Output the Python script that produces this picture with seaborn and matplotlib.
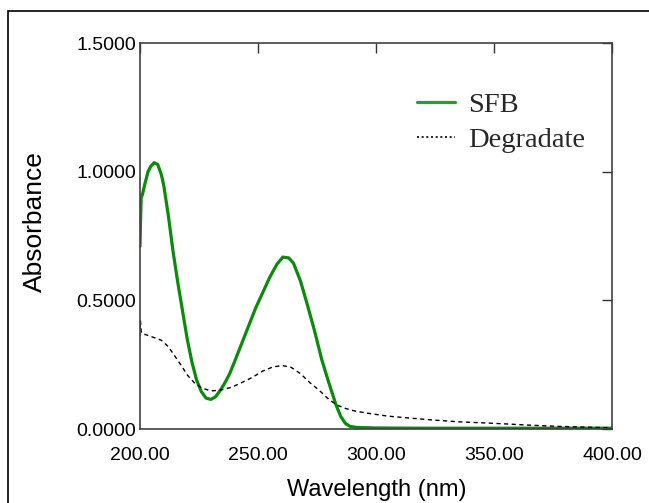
import numpy as np
import pandas as pd
import matplotlib
matplotlib.use("Agg")
import matplotlib.pyplot as plt
import seaborn as sns
from matplotlib.lines import Line2D
from matplotlib.patches import Rectangle
from matplotlib.ticker import FixedLocator, FormatStrFormatter

# ---- data ----
sfb_wl = [200, 200.2, 200.5, 201, 201.5, 202, 203.4, 204.5, 206, 207.5, 209, 210, 212, 214, 216,
          218, 220, 222, 224, 226, 228, 230, 232, 234, 236, 238, 240, 243, 246, 249, 252,
          255, 258, 260.5, 263, 265, 268, 271, 274, 277, 280, 283, 285, 287, 289, 292, 300,
          320, 350, 400]
sfb_abs = [0.71, 0.80, 0.90, 0.91, 0.93, 0.95, 1.00, 1.02, 1.035, 1.028, 0.99, 0.95, 0.83, 0.69, 0.57,
           0.46, 0.35, 0.26, 0.19, 0.145, 0.12, 0.115, 0.125, 0.15, 0.18, 0.215, 0.26, 0.33, 0.40, 0.47, 0.53,
           0.59, 0.64, 0.668, 0.665, 0.645, 0.575, 0.48, 0.38, 0.27, 0.18, 0.095, 0.05, 0.022, 0.01, 0.006, 0.004,
           0.003, 0.003, 0.003]

deg_wl = [200, 200.2, 200.5, 201, 203, 206, 209, 212, 215, 218, 220, 223, 226, 230, 233, 236,
          239, 243, 247.5, 252, 256, 260, 264, 268, 272, 276, 280, 283.5, 287, 291, 296, 305,
          315, 324, 335, 350, 365, 378, 390, 400]
deg_abs = [0.36, 0.42, 0.38, 0.37, 0.365, 0.355, 0.345, 0.32, 0.28, 0.24, 0.21, 0.18, 0.16, 0.148, 0.15, 0.155,
           0.163, 0.18, 0.20, 0.225, 0.24, 0.247, 0.24, 0.215, 0.18, 0.15, 0.115, 0.093, 0.08, 0.07, 0.062, 0.05,
           0.042, 0.035, 0.028, 0.022, 0.015, 0.01, 0.007, 0.005]

series_names = ["SFB", "Degradate"]
x_ticks = [200, 250, 300, 350, 400]
y_ticks = [0.0, 0.5, 1.0, 1.5]
x_label = "Wavelength (nm)"
y_label = "Absorbance"

sns.set_style("white")
plt.rcParams["font.family"] = ["Liberation Sans", "DejaVu Sans"]

W, H = 649, 503
fig = plt.figure(figsize=(W / 100, H / 100), dpi=100)
ax = fig.add_axes([140 / W, 1 - 429 / H, (612 - 140) / W, (429 - 43) / H])

sfb_df = pd.DataFrame({"wl": sfb_wl, "A": sfb_abs})
deg_df = pd.DataFrame({"wl": deg_wl, "A": deg_abs})

green = "#0b8a0b"
sns.lineplot(data=sfb_df, x="wl", y="A", ax=ax, color=green, lw=2.3,
             estimator=None, sort=False, legend=False)
sns.lineplot(data=deg_df, x="wl", y="A", ax=ax, color="black", lw=1.0,
             estimator=None, sort=False, legend=False)
ax.lines[1].set_linestyle((0, (3, 2.5)))

ax.set_xlim(200, 400)
ax.set_ylim(0, 1.5)
ax.xaxis.set_major_locator(FixedLocator(x_ticks))
ax.yaxis.set_major_locator(FixedLocator(y_ticks))
ax.xaxis.set_major_formatter(FormatStrFormatter("%.2f"))
ax.yaxis.set_major_formatter(FormatStrFormatter("%.4f"))
ax.tick_params(axis="both", which="major", direction="in", length=7.2, width=1.0,
               color="#333333", labelsize=14, labelcolor="black",
               top=True, right=True)
ax.tick_params(axis="x", pad=13)
ax.tick_params(axis="y", pad=3)
for s in ax.spines.values():
    s.set_color("#404040")
    s.set_linewidth(1.2)

ax.set_xlabel(x_label, fontsize=17, color="black")
ax.set_ylabel(y_label, fontsize=19, color="black")
ax.xaxis.set_label_coords((377 - 140) / 472, (429 - 479) / 386)
ax.yaxis.set_label_coords((47 - 140) / 472, (429 - 221.5) / 386)

handles = [Line2D([0], [0], color="#1fa32f", lw=2.3),
           Line2D([0], [0], color="black", lw=1.2, linestyle=(0, (1.2, 1.6)))]
ax.legend(handles, series_names, loc="upper left",
          bbox_to_anchor=((417 - 140) / 472, (429 - 92) / 386),
          frameon=False, borderpad=0, borderaxespad=0, handlelength=1.33,
          handletextpad=0.46, labelspacing=0.31,
          prop={"family": ["Liberation Serif", "DejaVu Serif"], "size": 20.5})

fig.add_artist(Rectangle((8 / W, -0.2), 1.5, 1.2 - 10.5 / H, transform=fig.transFigure,
                         fill=False, edgecolor="black", lw=1.2, clip_on=False))

fig.savefig("out.png", dpi=100)
